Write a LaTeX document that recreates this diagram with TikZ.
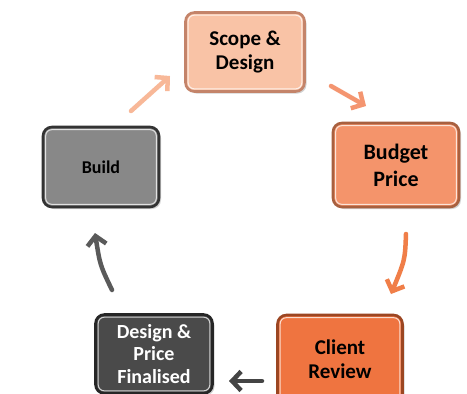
\documentclass[tikz,border=0pt]{standalone}
\usepackage{fontspec}
\setmainfont{Carlito}
\usetikzlibrary{arrows.meta,shadows,calc}
\definecolor{scopeF}{HTML}{F9C3A6}
\definecolor{scopeD}{HTML}{C4846A}
\definecolor{budgetF}{HTML}{F4946B}
\definecolor{budgetD}{HTML}{A8603F}
\definecolor{clientF}{HTML}{EF7440}
\definecolor{clientD}{HTML}{9C4622}
\definecolor{finalF}{HTML}{4A4A4A}
\definecolor{finalD}{HTML}{262626}
\definecolor{buildF}{HTML}{888888}
\definecolor{buildD}{HTML}{333333}
\definecolor{arA}{HTML}{F8B898}
\definecolor{arB}{HTML}{F49570}
\definecolor{arC}{HTML}{F07E48}
\definecolor{arD}{HTML}{444444}
\definecolor{arE}{HTML}{5A5A5A}
\tikzset{
  box/.style={rounded corners=9pt, line width=2.6pt, align=center,
    font=\fontsize{21}{24}\selectfont\bfseries, inner sep=0pt,
    drop shadow={shadow xshift=2pt, shadow yshift=-2pt, opacity=0.35}},
  hl/.style={white, line width=1pt, opacity=0.75, rounded corners=6pt},
  arr/.style={line width=4.5pt, line cap=round,
    -{Straight Barb[length=9pt,width=19pt,line width=4.5pt]}}
}
\begin{document}
\begin{tikzpicture}[x=1pt,y=-1pt]
\clip (0,0) rectangle (467,394);
\fill[white] (0,0) rectangle (467,394);
% boxes
\node[box, draw=scopeD, fill=scopeF, minimum width=119pt, minimum height=79pt] (scope) at (245,52) {Scope \&\\Design};
\node[box, draw=budgetD, fill=budgetF, minimum width=126pt, minimum height=84pt, font=\fontsize{22}{27}\selectfont\bfseries] (budget) at (396,165) {Budget\\Price};
\node[box, draw=clientD, fill=clientF, minimum width=125pt, minimum height=88pt] (client) at (340,359) {Client\\Review};
\node[box, draw=finalD, fill=finalF, text=white, minimum width=117pt, minimum height=79pt, font=\fontsize{20}{22.5}\selectfont\bfseries] (final) at (154,354) {Design \&\\Price\\Finalised};
\node[box, draw=buildD, fill=buildF, minimum width=116pt, minimum height=80pt, font=\fontsize{18}{22}\selectfont\bfseries] (build) at (101,167) {Build};
% highlights
\foreach \n in {scope,budget,client,final,build}{
  \draw[hl] ([shift={(4pt,4pt)}]\n.south west) rectangle ([shift={(-4pt,-4pt)}]\n.north east);
}
% connector ends
\coordinate (a1) at (131,111);
\coordinate (a2) at (170,76);
\coordinate (b1) at (331,86);
\coordinate (b2) at (366,106);
\coordinate (c1) at (406,234);
\coordinate (c2) at (391,294);
\coordinate (d1) at (262,381);
\coordinate (d2) at (229,381);
\coordinate (e1) at (112,290);
\coordinate (e2) at (95,233);
\draw[arr, arA] (a1) -- (a2);
\draw[arr, arB] (b1) -- (b2);
\draw[arr, arC] (c1) .. controls (405,260) .. (c2);
\draw[arr, arD] (d1) -- (d2);
\draw[arr, arE] (e1) .. controls (100,265) .. (e2);
\end{tikzpicture}
\end{document}
